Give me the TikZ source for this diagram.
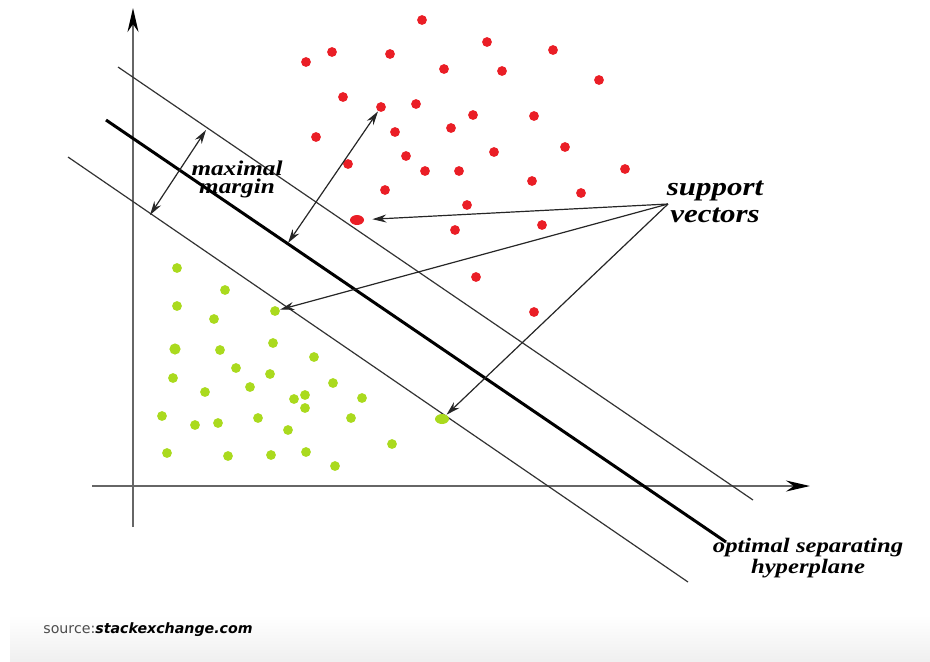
\documentclass[tikz,border=0pt]{standalone}
\usepackage{fontspec}
\usepackage{tikz}
\usetikzlibrary{arrows.meta,shapes.geometric}
\newfontfamily\lblfont[FakeStretch=1.2]{Liberation Serif}
\newfontfamily\srcfont{DejaVu Sans}
\definecolor{svmred}{RGB}{234,30,38}
\definecolor{svmgreen}{RGB}{170,218,30}

\begin{document}
\begin{tikzpicture}[x=0.5pt,y=0.5pt,
  rdot/.style={circle,fill=svmred,minimum size=4.9pt},
  gdot/.style={circle,fill=svmgreen,minimum size=4.9pt},
  svdot/.style={ellipse,minimum width=7pt,minimum height=5pt},
  axis/.style={draw=black!60,line width=1pt,-{Stealth[length=12pt,width=5.5pt,black]}},
  bound/.style={draw=black!80,line width=0.6pt},
  hyper/.style={draw=black,line width=1.5pt},
  margin/.style={draw=black!85,line width=0.6pt,{Stealth[length=7pt,width=4pt]}-{Stealth[length=7pt,width=4pt]}},
  pointer/.style={draw=black!85,line width=0.6pt,-{Stealth[length=7pt,width=4pt]}},
  svmtext/.style={align=center}]
\tikzstyle{every node}+=[inner sep=0pt]
\useasboundingbox (0,0) rectangle (930,-661);
\shade [top color=white,bottom color=black!6] (10,-615) rectangle (930,-661);
\coordinate (xs) at (92,-486);
\coordinate (xe) at (810,-486);
\coordinate (ys) at (133,-527);
\coordinate (ye) at (133,-8);
\draw [axis] (xs) -- (xe);
\draw [axis] (ys) -- (ye);
\coordinate (upA) at (118,-67);
\coordinate (upB) at (753,-500);
\coordinate (hpA) at (106,-120);
\coordinate (hpB) at (726,-542);
\coordinate (loA) at (68,-157);
\coordinate (loB) at (688,-582);
\draw [bound] (upA) -- (upB);
\draw [hyper] (hpA) -- (hpB);
\draw [bound] (loA) -- (loB);
\node [rdot] (r1) at (422,-20) {};
\node [rdot] (r2) at (332,-52) {};
\node [rdot] (r3) at (306,-62) {};
\node [rdot] (r4) at (390,-54) {};
\node [rdot] (r5) at (487,-42) {};
\node [rdot] (r6) at (553,-50) {};
\node [rdot] (r7) at (444,-69) {};
\node [rdot] (r8) at (502,-71) {};
\node [rdot] (r9) at (599,-80) {};
\node [rdot] (r10) at (343,-97) {};
\node [rdot] (r11) at (381,-107) {};
\node [rdot] (r12) at (416,-104) {};
\node [rdot] (r13) at (473,-115) {};
\node [rdot] (r14) at (534,-116) {};
\node [rdot] (r15) at (316,-137) {};
\node [rdot] (r16) at (395,-132) {};
\node [rdot] (r17) at (451,-128) {};
\node [rdot] (r18) at (565,-147) {};
\node [rdot] (r19) at (494,-152) {};
\node [rdot] (r20) at (348,-164) {};
\node [rdot] (r21) at (406,-156) {};
\node [rdot] (r22) at (425,-171) {};
\node [rdot] (r23) at (459,-171) {};
\node [rdot] (r24) at (625,-169) {};
\node [rdot] (r25) at (532,-181) {};
\node [rdot] (r26) at (385,-190) {};
\node [rdot] (r27) at (581,-193) {};
\node [rdot] (r28) at (467,-205) {};
\node [rdot,svdot] (r29) at (357,-220) {};
\node [rdot] (r30) at (455,-230) {};
\node [rdot] (r31) at (542,-225) {};
\node [rdot] (r32) at (476,-277) {};
\node [rdot] (r33) at (534,-312) {};
\node [gdot] (g1) at (177,-268) {};
\node [gdot] (g2) at (225,-290) {};
\node [gdot] (g3) at (177,-306) {};
\node [gdot] (g4) at (214,-319) {};
\node [gdot] (g5) at (275,-311) {};
\node [gdot,minimum size=5.6pt] (g6) at (175,-349) {};
\node [gdot] (g7) at (220,-350) {};
\node [gdot] (g8) at (273,-343) {};
\node [gdot] (g9) at (314,-357) {};
\node [gdot] (g10) at (236,-368) {};
\node [gdot] (g11) at (173,-378) {};
\node [gdot] (g12) at (270,-374) {};
\node [gdot] (g13) at (250,-387) {};
\node [gdot] (g14) at (205,-392) {};
\node [gdot] (g15) at (333,-383) {};
\node [gdot] (g16) at (294,-399) {};
\node [gdot] (g17) at (305,-395) {};
\node [gdot] (g18) at (305,-408) {};
\node [gdot] (g19) at (362,-398) {};
\node [gdot] (g20) at (162,-416) {};
\node [gdot] (g21) at (195,-425) {};
\node [gdot] (g22) at (218,-423) {};
\node [gdot] (g23) at (258,-418) {};
\node [gdot] (g24) at (351,-418) {};
\node [gdot] (g25) at (288,-430) {};
\node [gdot,svdot] (g26) at (442,-419) {};
\node [gdot] (g27) at (167,-453) {};
\node [gdot] (g28) at (228,-456) {};
\node [gdot] (g29) at (271,-455) {};
\node [gdot] (g30) at (306,-452) {};
\node [gdot] (g31) at (392,-444) {};
\node [gdot] (g32) at (335,-466) {};
% margin arrows
\coordinate (mlo) at (150,-215);
\coordinate (mhi) at (206,-130);
\coordinate (mhp) at (288,-243);
\draw [margin] (mlo) -- (mhi);
\draw [margin] (mhp) -- (r11);
\node [svmtext,font=\lblfont\bfseries\itshape\fontsize{10.5}{9}\selectfont] (maxmargin) at (237,-179) {maximal\\margin};
% support vectors
\node [svmtext,font=\lblfont\bfseries\itshape\fontsize{12.9}{13.5}\selectfont] (svtext) at (715,-202) {support\\vectors};
\coordinate (sv) at (668,-204);
\draw [pointer,shorten >=4pt] (sv) -- (r29);
\draw [pointer] (sv) -- (g5);
\draw [pointer] (sv) -- (g26);
\node [svmtext,font=\lblfont\bfseries\itshape\fontsize{10.3}{7.5}\selectfont] (hptext) at (808,-558) {optimal separating\\hyperplane};
\node [anchor=base west,font=\srcfont\fontsize{7.1}{8}\selectfont] (src) at (43,-633) {{\color{black!70}source:}\textbf{\textit{stackexchange.com}}};
\end{tikzpicture}
\end{document}
